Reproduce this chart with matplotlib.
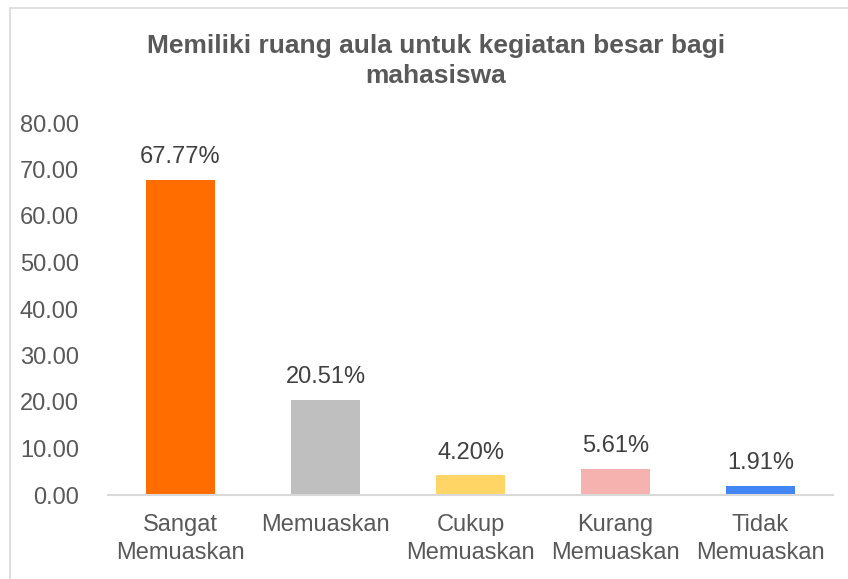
import matplotlib.pyplot as plt
from matplotlib.patches import Rectangle

plt.rcParams['font.family'] = ['Liberation Sans', 'DejaVu Sans']

kategori = ['Sangat\nMemuaskan', 'Memuaskan', 'Cukup\nMemuaskan', 'Kurang\nMemuaskan', 'Tidak\nMemuaskan']
nilai = [67.77, 20.51, 4.20, 5.61, 1.91]
label_nilai = ['67.77%', '20.51%', '4.20%', '5.61%', '1.91%']
warna = ['#FF6D00', '#BFBFBF', '#FFD666', '#F5B2AE', '#4285F4']
yticks = [0, 10, 20, 30, 40, 50, 60, 70, 80]

W, H = 848, 579
fig = plt.figure(figsize=(W / 100, H / 100), dpi=100)

# bingkai chart (kiri & atas terlihat)
fig.patches.append(Rectangle((10 / W, -0.1), 1.2, (H - 8) / H + 0.1, transform=fig.transFigure,
                             fill=False, edgecolor='#D9D9D9', linewidth=1.2))

ax = fig.add_axes([108 / W, 1 - 495 / H, (833 - 108) / W, (495 - 123) / H])
x = range(len(kategori))
ax.bar(x, nilai, width=0.476, color=warna)

for i, (v, t) in enumerate(zip(nilai, label_nilai)):
    ax.annotate(t, (i, v), xytext=(0, 8.5), textcoords='offset points', ha='center',
                va='bottom', fontsize=17, color='#404040')

ax.set_xlim(-0.5, len(kategori) - 0.5)
ax.set_ylim(0, 80)
ax.set_yticks(yticks)
ax.set_yticklabels([f'{v:.2f}' for v in yticks])
ax.set_xticks(list(x))
ax.set_xticklabels(kategori, linespacing=1.35)
ax.tick_params(axis='both', length=0, labelsize=17, labelcolor='#595959')
ax.tick_params(axis='y', pad=21)
ax.tick_params(axis='x', pad=14)

for s in ['top', 'right', 'left']:
    ax.spines[s].set_visible(False)
ax.spines['bottom'].set_color('#D9D9D9')
ax.spines['bottom'].set_linewidth(1.5)

fig.text(436 / W, 1 - 61 / H, 'Memiliki ruang aula untuk kegiatan besar bagi\nmahasiswa',
         ha='center', va='center', fontsize=19, fontweight='bold', color='#595959',
         linespacing=1.35)

plt.savefig('out.png', dpi=100)
